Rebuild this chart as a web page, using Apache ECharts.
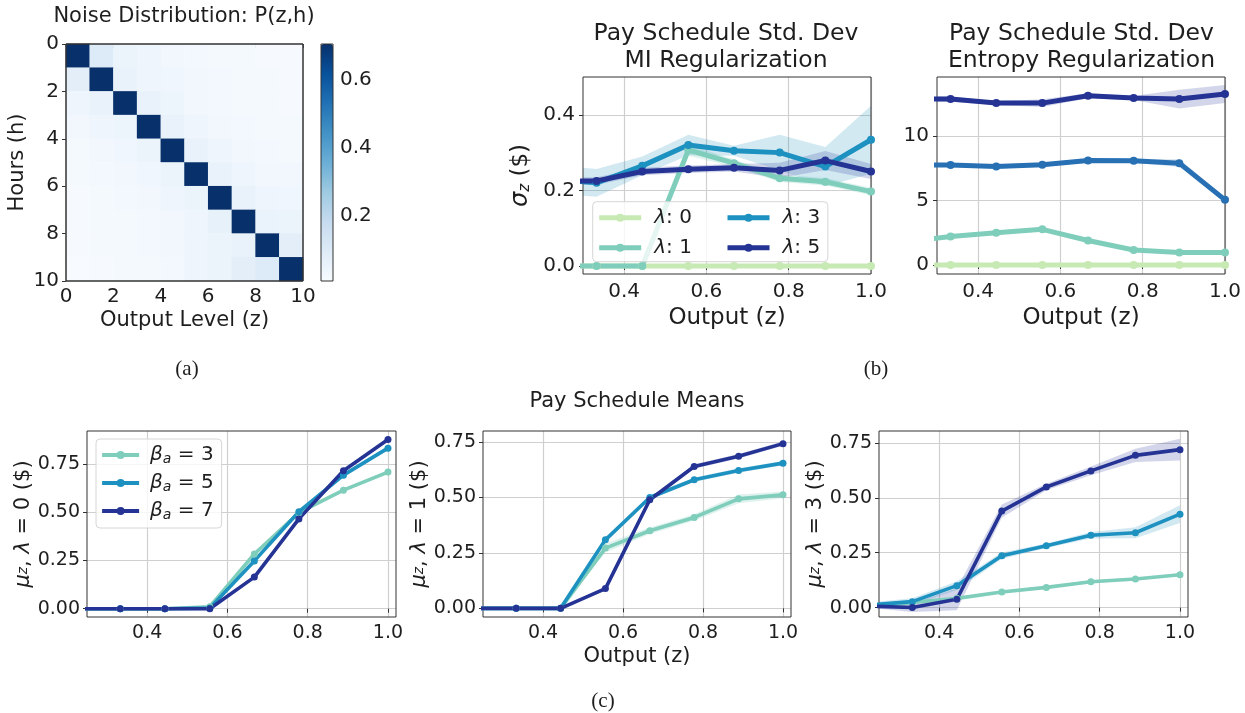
<!DOCTYPE html>
<html>
<head>
<meta charset="utf-8">
<script src="https://cdn.jsdelivr.net/npm/echarts@6/dist/echarts.min.js"></script>
<style>html,body{margin:0;padding:0;background:#fff}#c{width:1245px;height:713px}</style>
</head>
<body>
<div id="c"></div>
<script>
// ---------------- DATA ----------------
// (a) heatmap: rows = Hours (h) 0..9, cols = Output level (z) 0..9
const heatCats = ['0','1','2','3','4','5','6','7','8','9'];
const noise = [
  [0.705,0.100,0.050,0.040,0.030,0.025,0.020,0.020,0.015,0.015],
  [0.080,0.705,0.060,0.040,0.035,0.030,0.025,0.020,0.020,0.015],
  [0.040,0.060,0.705,0.060,0.045,0.030,0.025,0.020,0.020,0.015],
  [0.030,0.040,0.045,0.705,0.060,0.040,0.030,0.025,0.020,0.020],
  [0.020,0.030,0.035,0.050,0.705,0.060,0.040,0.030,0.025,0.020],
  [0.020,0.025,0.030,0.035,0.050,0.705,0.060,0.040,0.030,0.030],
  [0.015,0.020,0.025,0.030,0.040,0.050,0.705,0.060,0.040,0.035],
  [0.015,0.020,0.020,0.025,0.030,0.040,0.065,0.705,0.055,0.050],
  [0.015,0.020,0.020,0.025,0.030,0.040,0.050,0.060,0.705,0.080],
  [0.010,0.015,0.020,0.020,0.025,0.040,0.050,0.080,0.100,0.705]
];
const heatTicks = [0,2,4,6,8,10];
const heatTickLabels = ['0','2','4','6','8','10'];
const cbTicks = [0.2,0.4,0.6];
const cbTickLabels = ['0.2','0.4','0.6'];

// shared x values (Output z)
const zOut = [0.222,0.333,0.444,0.556,0.667,0.778,0.889,1.0];

// (b) std dev, MI regularization
const lambdaNames = ['λ: 0','λ: 1','λ: 3','λ: 5'];
const miL0 = [0,0,0,0,0,0,0,0];
const miL1 = [0,0,0,0.307,0.272,0.232,0.223,0.197];
const miL3 = [0.230,0.220,0.265,0.320,0.305,0.300,0.263,0.334];
const miL5 = [0.225,0.225,0.250,0.256,0.260,0.253,0.279,0.250];
const miL1Sd = [0,0,0,0.015,0.010,0.010,0.010,0.010];
const miL3Sd = [0.037,0.037,0.025,0.027,0.013,0.047,0.052,0.090];
const miL5Sd = [0.010,0.010,0.010,0.010,0.010,0.020,0.025,0.020];

// (b) std dev, Entropy regularization
const enL0 = [0,0,0,0,0,0,0,0];
const enL1 = [1.77,2.20,2.50,2.76,1.89,1.16,0.96,0.96];
const enL3 = [7.75,7.73,7.62,7.75,8.09,8.06,7.88,5.04];
const enL5 = [12.84,12.84,12.53,12.53,13.10,12.92,12.84,13.23];
const enL1Sd = [0.10,0.10,0.10,0.10,0.10,0.10,0.10,0.10];
const enL3Sd = [0.15,0.15,0.15,0.15,0.15,0.15,0.30,0.20];
const enL5Sd = [0.20,0.20,0.15,0.30,0.20,0.15,0.72,0.70];

const bXTicks = [0.4,0.6,0.8,1.0];
const bXTickLabels = ['0.4','0.6','0.8','1.0'];
const miYTicks = [0,0.2,0.4];
const miYTickLabels = ['0.0','0.2','0.4'];
const enYTicks = [0,5,10];
const enYTickLabels = ['0','5','10'];

// (c) means
const betaNames = ['β3','β5','β7'];
const betaValues = ['3','5','7'];
const m0B3 = [0,0,0,0.010,0.284,0.498,0.615,0.709];
const m0B5 = [0,0,0,0.003,0.248,0.503,0.693,0.833];
const m0B7 = [0,0,0,0,0.164,0.466,0.716,0.878];
const m1B3 = [0,0,0,0.272,0.350,0.410,0.494,0.512];
const m1B5 = [0,0,0,0.309,0.500,0.580,0.622,0.655];
const m1B7 = [0,0,0,0.089,0.490,0.640,0.686,0.743];
const m3B3 = [0.003,0.023,0.042,0.071,0.092,0.118,0.130,0.150];
const m3B5 = [0.011,0.027,0.100,0.236,0.282,0.330,0.341,0.426];
const m3B7 = [0.007,0.000,0.038,0.440,0.550,0.623,0.694,0.720];
const m0Sd = [0,0,0,0.006,0.008,0.008,0.008,0.008];
const m1B3Sd = [0,0,0,0.020,0.015,0.015,0.020,0.015];
const m1Sd = [0,0,0,0.010,0.010,0.010,0.010,0.010];
const m3B3Sd = [0.004,0.004,0.005,0.006,0.006,0.006,0.006,0.006];
const m3B5Sd = [0.012,0.015,0.020,0.015,0.010,0.015,0.025,0.040];
const m3B7Sd = [0.008,0.020,0.050,0.030,0.015,0.020,0.030,0.050];

const cXTicks = [0.4,0.6,0.8,1.0];
const cXTickLabels = ['0.4','0.6','0.8','1.0'];
const cYTicks = [0,0.25,0.5,0.75];
const cYTickLabels = ['0.00','0.25','0.50','0.75'];

// ---------------- STYLE ----------------
const FONT = 'DejaVu Sans';
const TXT = '#1e1e1e';
const C_L0 = '#c7e9b4', C_L1 = '#7fcdbb', C_L3 = '#1d91c0', C_L5 = '#253494', C_L3E = '#2870b4';
const blues = ['#f7fbff','#deebf7','#c6dbef','#9ecae1','#6baed6','#4292c6','#2171b5','#08519c','#08306b'];

function fmt(ticks, labels) {
  return function (v) {
    const i = ticks.findIndex(t => Math.abs(t - v) < 1e-9);
    return i >= 0 ? labels[i] : '';
  };
}
function gridRect(left, top, width, height) {
  return {left, top, width, height, show: true, borderColor: '#333', borderWidth: 1, backgroundColor: 'transparent', z: 3, containLabel: false};
}
function valAxis(gi, min, max, ticks, labels, o) {
  o = o || {};
  return {
    type: 'value', gridIndex: gi, min, max, inverse: !!o.inverse, position: o.position,
    axisLine: {show: false},
    axisTick: {show: true, inside: false, length: 4, lineStyle: {color: '#333', width: 1}, customValues: ticks},
    axisLabel: {show: true, customValues: ticks, formatter: fmt(ticks, labels), fontFamily: FONT,
      fontSize: o.fs || 19, color: TXT, margin: o.margin || 7},
    splitLine: {show: o.grid !== false, lineStyle: {color: '#cfcfcf', width: 1.2}},
    name: o.name || '', nameLocation: 'middle', nameGap: o.nameGap || 30, nameRotate: o.nameRotate,
    nameTextStyle: Object.assign({fontFamily: FONT, fontSize: o.nfs || 21, color: TXT}, o.nameStyle || {})
  };
}
const pairs = (xs, ys) => xs.map((x, i) => [x, ys[i]]);
function lineS(name, ys, color, ai, width, sym) {
  return {type: 'line', name, xAxisIndex: ai, yAxisIndex: ai, data: pairs(zOut, ys),
    color, lineStyle: {width, color}, itemStyle: {color}, symbol: 'circle', symbolSize: sym,
    showSymbol: true, z: 3, clip: true, animation: false, silent: true};
}
// shaded band (mean +/- sd), drawn as one polygon through the axis scales
function bandS(ys, sd, color, ai, op) {
  const lo = ys.map((y, i) => y - sd[i]);
  const hi = ys.map((y, i) => y + sd[i]);
  const data = zOut.map((x, i) => [x, lo[i], hi[i]]);
  return {
    type: 'custom', coordinateSystem: 'cartesian2d', xAxisIndex: ai, yAxisIndex: ai,
    clip: true, silent: true, z: 2, animation: false, data,
    encode: {x: 0, y: [1, 2]},
    renderItem: function (params, api) {
      if (params.dataIndex !== 0) return null;
      const pts = [];
      for (let i = 0; i < data.length; i++) pts.push(api.coord([data[i][0], data[i][1]]));
      for (let i = data.length - 1; i >= 0; i--) pts.push(api.coord([data[i][0], data[i][2]]));
      return {type: 'polygon', shape: {points: pts}, style: {fill: color, opacity: op}};
    }
  };
}

const mathRich = {
  it: {fontFamily: FONT, fontStyle: 'italic', fontSize: 21, color: TXT},
  sub: {fontFamily: FONT, fontStyle: 'italic', fontSize: 14, color: TXT},
  n: {fontFamily: FONT, fontSize: 21, color: TXT}
};

// ---------------- OPTION ----------------
const heatData = [];
noise.forEach((row, r) => row.forEach((v, c) => heatData.push([c, r, v])));

const BW = 5, CW = 3.6;
const series = [];
series.push({type: 'heatmap', xAxisIndex: 0, yAxisIndex: 0, data: heatData, silent: true, animation: false,
  itemStyle: {borderWidth: 0}, emphasis: {disabled: true}});

// b1 MI
series.push(bandS(miL1, miL1Sd, C_L1, 3, 0.25));
series.push(bandS(miL3, miL3Sd, C_L3, 3, 0.2));
series.push(bandS(miL5, miL5Sd, C_L5, 3, 0.2));
series.push(lineS(lambdaNames[0], miL0, C_L0, 3, BW, 8));
series.push(lineS(lambdaNames[1], miL1, C_L1, 3, BW, 8));
series.push(lineS(lambdaNames[2], miL3, C_L3, 3, BW, 8));
series.push(lineS(lambdaNames[3], miL5, C_L5, 3, BW, 8));
// b2 Entropy
series.push(bandS(enL1, enL1Sd, C_L1, 4, 0.25));
series.push(bandS(enL3, enL3Sd, C_L3E, 4, 0.2));
series.push(bandS(enL5, enL5Sd, C_L5, 4, 0.2));
series.push(lineS(lambdaNames[0], enL0, C_L0, 4, BW, 8));
series.push(lineS(lambdaNames[1], enL1, C_L1, 4, BW, 8));
series.push(lineS(lambdaNames[2], enL3, C_L3E, 4, BW, 8));
series.push(lineS(lambdaNames[3], enL5, C_L5, 4, BW, 8));
// c1
series.push(bandS(m0B3, m0Sd, C_L1, 5, 0.25));
series.push(bandS(m0B5, m0Sd, C_L3, 5, 0.2));
series.push(bandS(m0B7, m0Sd, C_L5, 5, 0.2));
series.push(lineS(betaNames[0], m0B3, C_L1, 5, CW, 7));
series.push(lineS(betaNames[1], m0B5, C_L3, 5, CW, 7));
series.push(lineS(betaNames[2], m0B7, C_L5, 5, CW, 7));
// c2
series.push(bandS(m1B3, m1B3Sd, C_L1, 6, 0.25));
series.push(bandS(m1B5, m1Sd, C_L3, 6, 0.2));
series.push(bandS(m1B7, m1Sd, C_L5, 6, 0.2));
series.push(lineS(betaNames[0], m1B3, C_L1, 6, CW, 7));
series.push(lineS(betaNames[1], m1B5, C_L3, 6, CW, 7));
series.push(lineS(betaNames[2], m1B7, C_L5, 6, CW, 7));
// c3
series.push(bandS(m3B3, m3B3Sd, C_L1, 7, 0.25));
series.push(bandS(m3B5, m3B5Sd, C_L3, 7, 0.2));
series.push(bandS(m3B7, m3B7Sd, C_L5, 7, 0.2));
series.push(lineS(betaNames[0], m3B3, C_L1, 7, CW, 7));
series.push(lineS(betaNames[1], m3B5, C_L3, 7, CW, 7));
series.push(lineS(betaNames[2], m3B7, C_L5, 7, CW, 7));

const lamRich = {
  it: {fontFamily: FONT, fontStyle: 'italic', fontSize: 20, color: TXT, lineHeight: 20},
  n: {fontFamily: FONT, fontSize: 20, color: TXT, lineHeight: 20}
};
const betaRich = {
  it: {fontFamily: FONT, fontStyle: 'italic', fontSize: 20, color: TXT, lineHeight: 22},
  sub: {fontFamily: FONT, fontStyle: 'italic', fontSize: 14, color: TXT, lineHeight: 10, verticalAlign: 'bottom'},
  n: {fontFamily: FONT, fontSize: 20, color: TXT, lineHeight: 22}
};
const lamFmt = name => '{it|λ}{n|' + name.slice(1) + '}';
const betaFmt = name => '{it|β}{sub|a}{n| = ' + betaValues[betaNames.indexOf(name)] + '}';

const option = {
  backgroundColor: '#fff',
  animation: false,
  grid: [
    gridRect(66, 44, 237, 237),
    gridRect(66, 44, 237, 237),
    gridRect(321, 44, 12, 237),
    gridRect(583, 77, 288, 197),
    gridRect(937, 77, 288, 197),
    gridRect(87, 431, 309, 186),
    gridRect(483, 431, 308, 186),
    gridRect(879, 431, 309, 186)
  ],
  xAxis: [
    {type: 'category', gridIndex: 0, data: heatCats, show: false},
    valAxis(1, 0, 10, heatTicks, heatTickLabels, {grid: false, fs: 20, margin: 6, name: 'Output Level (z)', nameGap: 29, nfs: 21}),
    {type: 'value', gridIndex: 2, min: 0, max: 1, show: false},
    valAxis(3, 0.3, 1.0, bXTicks, bXTickLabels, {fs: 20, margin: 8, name: 'Output (z)', nameGap: 33, nfs: 23}),
    valAxis(4, 0.3, 1.0, bXTicks, bXTickLabels, {fs: 20, margin: 8, name: 'Output (z)', nameGap: 33, nfs: 23}),
    valAxis(5, 0.25, 1.02, cXTicks, cXTickLabels, {fs: 19, margin: 7}),
    valAxis(6, 0.25, 1.02, cXTicks, cXTickLabels, {fs: 19, margin: 7, name: 'Output (z)', nameGap: 29, nfs: 21}),
    valAxis(7, 0.25, 1.02, cXTicks, cXTickLabels, {fs: 19, margin: 7})
  ],
  yAxis: [
    {type: 'category', gridIndex: 0, data: heatCats, inverse: true, show: false},
    valAxis(1, 0, 10, heatTicks, heatTickLabels, {grid: false, inverse: true, fs: 20, margin: 7, name: 'Hours (h)', nameGap: 38, nameRotate: 90, nfs: 21}),
    valAxis(2, 0.01, 0.705, cbTicks, cbTickLabels, {grid: false, position: 'right', fs: 20, margin: 7}),
    valAxis(3, -0.021, 0.5, miYTicks, miYTickLabels, {fs: 20, margin: 8, name: '{it|σ}{sub|z}{n| ($)}', nameGap: 50, nameRotate: 90,
      nameStyle: {rich: {it: {fontFamily: FONT, fontStyle: 'italic', fontSize: 24, color: TXT}, sub: {fontFamily: FONT, fontStyle: 'italic', fontSize: 15, color: TXT, verticalAlign: 'bottom', lineHeight: 12}, n: {fontFamily: FONT, fontSize: 23, color: TXT}}}}),
    valAxis(4, -0.7, 14.55, enYTicks, enYTickLabels, {fs: 20, margin: 8}),
    valAxis(5, -0.043, 0.922, cYTicks, cYTickLabels, {fs: 19, margin: 7, name: '{it|μ}{sub|z}{n|, }{it|λ}{n| = 0 ($)}', nameGap: 52, nameRotate: 90, nameStyle: {rich: mathRich}}),
    valAxis(6, -0.039, 0.80, cYTicks, cYTickLabels, {fs: 19, margin: 7, name: '{it|μ}{sub|z}{n|, }{it|λ}{n| = 1 ($)}', nameGap: 52, nameRotate: 90, nameStyle: {rich: mathRich}}),
    valAxis(7, -0.043, 0.805, cYTicks, cYTickLabels, {fs: 19, margin: 7, name: '{it|μ}{sub|z}{n|, }{it|λ}{n| = 3 ($)}', nameGap: 52, nameRotate: 90, nameStyle: {rich: mathRich}})
  ],
  visualMap: {
    type: 'continuous', seriesIndex: 0, min: 0.01, max: 0.705, calculable: false, realtime: false,
    left: 321, top: 44, itemWidth: 12, itemHeight: 237, orient: 'vertical', padding: 0,
    showLabel: false, text: null, hoverLink: false, inRange: {color: blues}, z: 1
  },
  legend: [
    {data: [lambdaNames[0], lambdaNames[1]], orient: 'vertical', left: 592.7, top: 201.7,
      padding: [6, 136, 4, 4], itemWidth: 42, itemHeight: 10, itemGap: 10,
      lineStyle: {width: BW}, 
      backgroundColor: 'rgba(255,255,255,0.8)', borderColor: '#d6d6d6', borderWidth: 1, borderRadius: 4,
      formatter: lamFmt, textStyle: {padding: [0, 0, 0, 8], rich: lamRich}, selectedMode: false, z: 6},
    {data: [lambdaNames[2], lambdaNames[3]], orient: 'vertical', left: 725, top: 207.7,
      padding: 0, itemWidth: 42, itemHeight: 10, itemGap: 10,
      lineStyle: {width: BW},
      formatter: lamFmt, textStyle: {padding: [0, 0, 0, 8], rich: lamRich}, selectedMode: false, z: 7},
    {data: betaNames, orient: 'vertical', left: 96, top: 439,
      padding: [6, 8, 6, 4], itemWidth: 37, itemHeight: 10, itemGap: 7,
      lineStyle: {width: CW + 0.6},
      backgroundColor: 'rgba(255,255,255,0.8)', borderColor: '#d6d6d6', borderWidth: 1, borderRadius: 4,
      formatter: betaFmt, textStyle: {padding: [0, 0, 0, 6], rich: betaRich}, selectedMode: false, z: 6}
  ],
  graphic: [
    {type: 'text', x: 184, y: 17, style: {text: 'Noise Distribution: P(z,h)', fontFamily: FONT, fontSize: 21, fill: TXT, align: 'center', verticalAlign: 'middle'}},
    {type: 'text', x: 726, y: 47.5, style: {text: 'Pay Schedule Std. Dev\nMI Regularization', fontFamily: FONT, fontSize: 23.5, lineHeight: 27, fill: TXT, align: 'center', verticalAlign: 'middle'}},
    {type: 'text', x: 1081.5, y: 47.5, style: {text: 'Pay Schedule Std. Dev\nEntropy Regularization', fontFamily: FONT, fontSize: 23.5, lineHeight: 27, fill: TXT, align: 'center', verticalAlign: 'middle'}},
    {type: 'text', x: 637, y: 402, style: {text: 'Pay Schedule Means', fontFamily: FONT, fontSize: 21, fill: TXT, align: 'center', verticalAlign: 'middle'}},
    {type: 'text', x: 187, y: 369, style: {text: '(a)', fontFamily: 'Liberation Serif', fontSize: 21, fill: TXT, align: 'center', verticalAlign: 'middle'}},
    {type: 'text', x: 876, y: 369, style: {text: '(b)', fontFamily: 'Liberation Serif', fontSize: 21, fill: TXT, align: 'center', verticalAlign: 'middle'}},
    {type: 'text', x: 603, y: 701, style: {text: '(c)', fontFamily: 'Liberation Serif', fontSize: 21, fill: TXT, align: 'center', verticalAlign: 'middle'}}
  ],
  series
};

const chart = echarts.init(document.getElementById('c'), null, {renderer: 'canvas'});
chart.setOption(option);
</script>
</body>
</html>
